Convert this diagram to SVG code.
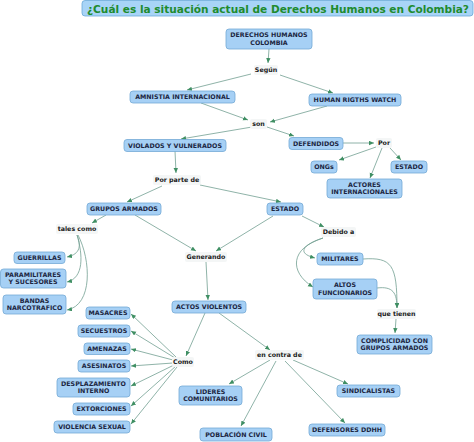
<svg xmlns="http://www.w3.org/2000/svg" width="474" height="442" viewBox="0 0 474 442">
<defs>
<style>
.n rect{fill:#a6d0f5;stroke:#74a9d6;stroke-width:0.8}
.n text{font-family:"DejaVu Sans",Verdana,sans-serif;font-weight:bold;font-size:6.3px;fill:#1c2642;text-anchor:middle}
.l rect{fill:#f4f6f6;stroke:none}
.l text{font-family:"DejaVu Sans",Verdana,sans-serif;font-weight:bold;font-size:6.3px;fill:#1a1a1a;text-anchor:middle}
.c path{fill:none;stroke:#72a092;stroke-width:0.8;marker-end:url(#ah)}
</style>
<marker id="ah" markerUnits="userSpaceOnUse" markerWidth="6" markerHeight="6" refX="5" refY="2.2" orient="auto">
<path d="M0,0 L5,2.2 L0,4.4 z" fill="#3f8f63"/>
</marker>
</defs>
<rect width="474" height="442" fill="#ffffff"/>
<g id="title">
<rect x="82" y="0.5" width="391" height="15.5" rx="3" fill="#a8d4f7" stroke="#6aa8d8" stroke-width="0.8"/>
<text x="278" y="12.8" font-family="DejaVu Sans,Verdana,sans-serif" font-weight="bold" font-size="10.6" fill="#1e8b2e" text-anchor="middle" textLength="382" lengthAdjust="spacingAndGlyphs">¿Cuál es la situación actual de Derechos Humanos en Colombia?</text>
</g>
<g id="connectors" class="c">
<path d="M269,49 L268,63"/>
<path d="M251,74 L187,90"/>
<path d="M280,75 L333,93"/>
<path d="M201,103 L248,120"/>
<path d="M327,106 L270,122"/>
<path d="M252,127 L181,139"/>
<path d="M267,127 L294,136"/>
<path d="M343,143 L374,143"/>
<path d="M376,147 L339,160"/>
<path d="M382,148 L370,178"/>
<path d="M390,148 L401,160"/>
<path d="M175,151 L176,173"/>
<path d="M162,186 L127,202"/>
<path d="M200,185 L281,202"/>
<path d="M106,215 L92,223"/>
<path d="M135,215 L196,251"/>
<path d="M273,216 L216,251"/>
<path d="M302,216 L324,227"/>
<path d="M323,238 C303,245 296,253 315,258"/>
<path d="M323,238 C290,248 289,272 313,287"/>
<path d="M363,259 C392,257 397,265 397,308"/>
<path d="M377,288 C393,286 397,293 397,308"/>
<path d="M396,319 L395,333"/>
<path d="M77,235 C81,245 81,254 67,257"/>
<path d="M77,235 C83,255 84,278 67,282"/>
<path d="M78,235 C91,260 93,305 67,310"/>
<path d="M206,262 L208,300"/>
<path d="M205,313 L186,356"/>
<path d="M219,313 L270,350"/>
<path d="M176,357 L131,314"/>
<path d="M175,358 L131,331"/>
<path d="M173,360 L131,349"/>
<path d="M173,363 L131,366"/>
<path d="M174,365 L131,386"/>
<path d="M176,366 L131,406"/>
<path d="M177,367 L131,424"/>
<path d="M270,360 L229,384"/>
<path d="M276,361 L241,426"/>
<path d="M285,361 L345,423"/>
<path d="M293,360 L348,384"/>
</g>
<g id="derechos" class="n"><rect x="226" y="29" width="86" height="20" rx="3"/><text x="269" y="37.3">DERECHOS HUMANOS</text><text x="269" y="45.3">COLOMBIA</text></g>
<g id="segun" class="l"><rect x="254" y="65" width="24" height="10" rx="2"/><text x="266" y="72.3">Según</text></g>
<g id="amnistia" class="n"><rect x="130" y="91" width="105" height="12" rx="3"/><text x="182.5" y="99.3">AMNISTIA INTERNACIONAL</text></g>
<g id="hrw" class="n"><rect x="309" y="94" width="92" height="12" rx="3"/><text x="355" y="102.3">HUMAN RIGTHS WATCH</text></g>
<g id="son" class="l"><rect x="250" y="119" width="17" height="10" rx="2"/><text x="258.5" y="126.3">son</text></g>
<g id="violados" class="n"><rect x="124" y="139.5" width="102" height="12" rx="3"/><text x="175" y="147.8">VIOLADOS Y VULNERADOS</text></g>
<g id="defendidos" class="n"><rect x="289" y="137.5" width="54" height="12" rx="3"/><text x="316" y="145.8">DEFENDIDOS</text></g>
<g id="por" class="l"><rect x="376" y="138" width="16" height="10" rx="2"/><text x="384" y="145.3">Por</text></g>
<g id="ongs" class="n"><rect x="311" y="161" width="26" height="12" rx="3"/><text x="324" y="169.3">ONGs</text></g>
<g id="estado2" class="n"><rect x="391" y="161" width="36" height="12" rx="3"/><text x="409" y="169.3">ESTADO</text></g>
<g id="actores" class="n"><rect x="327" y="179" width="75" height="19" rx="3"/><text x="364.5" y="186.5">ACTORES</text><text x="364.5" y="194.3">INTERNACIONALES</text></g>
<g id="porparte" class="l"><rect x="153" y="175" width="48" height="10" rx="2"/><text x="177" y="182.3">Por parte de</text></g>
<g id="grupos" class="n"><rect x="87" y="203" width="74" height="12" rx="3"/><text x="124" y="211.3">GRUPOS ARMADOS</text></g>
<g id="estado1" class="n"><rect x="267" y="203" width="36" height="12" rx="3"/><text x="285" y="211.3">ESTADO</text></g>
<g id="talescomo" class="l"><rect x="56" y="224" width="42" height="10" rx="2"/><text x="77" y="231.3">tales como</text></g>
<g id="debido" class="l"><rect x="321" y="227" width="35" height="10" rx="2"/><text x="338.5" y="234.3">Debido a</text></g>
<g id="generando" class="l"><rect x="185" y="252" width="42" height="10" rx="2"/><text x="206" y="259.3">Generando</text></g>
<g id="guerrillas" class="n"><rect x="14" y="252" width="51" height="11.5" rx="3"/><text x="39.5" y="260">GUERRILLAS</text></g>
<g id="militares" class="n"><rect x="317" y="253" width="46" height="12" rx="3"/><text x="340" y="261.3">MILITARES</text></g>
<g id="paramilitares" class="n"><rect x="0.5" y="269" width="65.5" height="19" rx="3"/><text x="33" y="276.5">PARAMILITARES</text><text x="33" y="284.3">Y SUCESORES</text></g>
<g id="altos" class="n"><rect x="313" y="279" width="64" height="20" rx="3"/><text x="345" y="287">ALTOS</text><text x="345" y="295">FUNCIONARIOS</text></g>
<g id="bandas" class="n"><rect x="3" y="295" width="63" height="19" rx="3"/><text x="34.5" y="302.5">BANDAS</text><text x="34.5" y="310.3">NARCOTRAFICO</text></g>
<g id="actos" class="n"><rect x="172" y="301" width="74" height="12" rx="3"/><text x="209" y="309.3">ACTOS VIOLENTOS</text></g>
<g id="masacres" class="n"><rect x="86" y="307" width="44" height="12" rx="3"/><text x="108" y="315.3">MASACRES</text></g>
<g id="quetienen" class="l"><rect x="377" y="309" width="39" height="10" rx="2"/><text x="396.5" y="316.3">que tienen</text></g>
<g id="secuestros" class="n"><rect x="78" y="325" width="52" height="12" rx="3"/><text x="104" y="333.3">SECUESTROS</text></g>
<g id="complicidad" class="n"><rect x="357" y="335" width="75" height="19" rx="3"/><text x="394.5" y="342.5">COMPLICIDAD CON</text><text x="394.5" y="350.3">GRUPOS ARMADOS</text></g>
<g id="amenazas" class="n"><rect x="84" y="343" width="46" height="11.5" rx="3"/><text x="107" y="351">AMENAZAS</text></g>
<g id="encontra" class="l"><rect x="255" y="350" width="49" height="10" rx="2"/><text x="279.5" y="357.3">en contra de</text></g>
<g id="como" class="l"><rect x="172" y="357" width="22" height="10" rx="2"/><text x="183" y="364.3">Como</text></g>
<g id="asesinatos" class="n"><rect x="78" y="360" width="52" height="12" rx="3"/><text x="104" y="368.3">ASESINATOS</text></g>
<g id="desplazamiento" class="n"><rect x="57" y="378" width="73" height="19" rx="3"/><text x="93.5" y="385.5">DESPLAZAMIENTO</text><text x="93.5" y="393.3">INTERNO</text></g>
<g id="sindicalistas" class="n"><rect x="337" y="385" width="63" height="12" rx="3"/><text x="368.5" y="393.3">SINDICALISTAS</text></g>
<g id="lideres" class="n"><rect x="179" y="386" width="63" height="19" rx="3"/><text x="210.5" y="393.5">LIDERES</text><text x="210.5" y="401.3">COMUNITARIOS</text></g>
<g id="extorciones" class="n"><rect x="73" y="403" width="57" height="12" rx="3"/><text x="101.5" y="411.3">EXTORCIONES</text></g>
<g id="violencia" class="n"><rect x="54" y="421" width="76" height="12" rx="3"/><text x="92" y="429.3">VIOLENCIA SEXUAL</text></g>
<g id="defensores" class="n"><rect x="309" y="424" width="76" height="12" rx="3"/><text x="347" y="432.3">DEFENSORES DDHH</text></g>
<g id="poblacion" class="n"><rect x="200" y="428" width="72" height="13" rx="3"/><text x="236" y="436.8">POBLACIÓN CIVIL</text></g>
</svg>
